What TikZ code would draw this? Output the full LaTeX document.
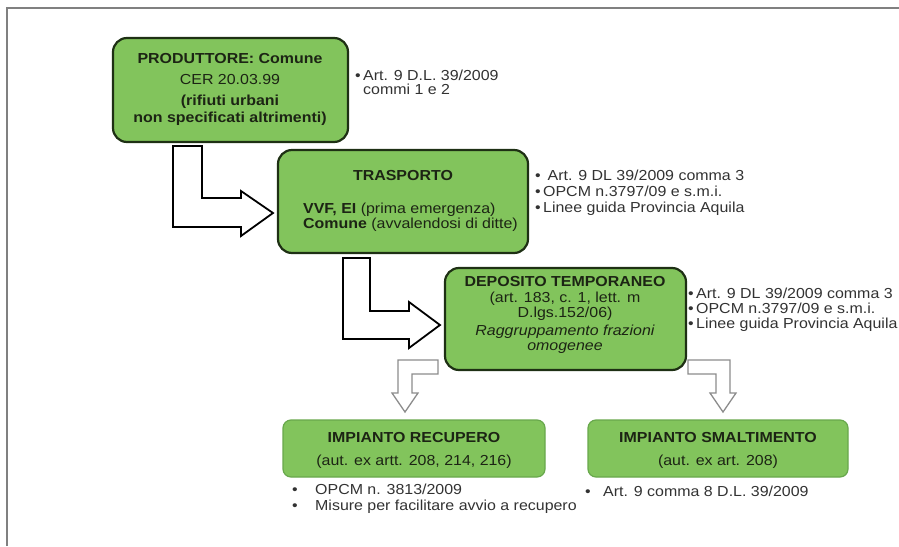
\documentclass[tikz,border=0pt]{standalone}
\usepackage{fontspec}
\setmainfont{Liberation Sans}[FakeStretch=1.1]
\definecolor{boxgreen}{RGB}{130,196,92}
\definecolor{boxedge}{RGB}{30,48,20}
\definecolor{lowedge}{RGB}{104,168,76}
\definecolor{textdark}{RGB}{28,36,20}
\definecolor{sidegray}{RGB}{50,50,50}
\definecolor{framegray}{RGB}{128,128,128}
\definecolor{arrgray}{RGB}{140,140,140}
\tikzset{
  bigbox/.style={draw=boxedge, line width=2.2pt, fill=boxgreen, rounded corners=14pt, inner sep=0pt},
  lowbox/.style={draw=lowedge, line width=1.2pt, fill=boxgreen, rounded corners=8pt, inner sep=0pt},
  txt/.style={font=\fontsize{14.5}{16}\selectfont, text=textdark, inner sep=0pt, anchor=base},
  side/.style={font=\fontsize{14.5}{16}\selectfont, text=sidegray, inner sep=0pt, anchor=base west},
  bigarrow/.style={draw=black, line width=1.8pt, fill=white, line join=miter},
  grayarrow/.style={draw=arrgray, line width=1.3pt, fill=white, line join=miter},
  framestyle/.style={draw=framegray, line width=2pt}
}
\begin{document}
\begin{tikzpicture}[x=1pt,y=-1pt]
\useasboundingbox (0,0) rectangle (899,546);
% frame
\draw[framestyle] (7,546) -- (7,8) -- (899,8);

% boxes
\node[bigbox, minimum width=235pt, minimum height=104pt] (b1) at (230.5,90) {};
\node[bigbox, minimum width=250pt, minimum height=103pt] (b2) at (403,201.5) {};
\node[bigbox, minimum width=241pt, minimum height=102pt] (b3) at (565.5,319) {};
\node[lowbox, minimum width=262pt, minimum height=57pt] (b4) at (414,448.5) {};
\node[lowbox, minimum width=260pt, minimum height=57pt] (b5) at (718,448.5) {};

% big bent arrows
\draw[bigarrow] (173,146) -- (202,146) -- (202,198) -- (241,198) -- (241,191) -- (273,213)
  -- (241,236) -- (241,227) -- (173,227) -- cycle;
\draw[bigarrow] (343,258) -- (370,258) -- (370,311) -- (409,311) -- (409,302) -- (440,325)
  -- (409,348) -- (409,339) -- (343,339) -- cycle;

% gray arrows
\draw[grayarrow] (438,360) -- (398,360) -- (398,393) -- (392,393) -- (405,412) -- (418,393)
  -- (412,393) -- (412,374) -- (438,374) -- cycle;
\draw[grayarrow] (688,360) -- (730,360) -- (730,393) -- (736,393) -- (723,412) -- (710,393)
  -- (716,393) -- (716,374) -- (688,374) -- cycle;

% box 1 text
\node[txt] (t1a) at (230,63) {\textbf{PRODUTTORE: Comune}};
\node[txt] (t1b) at (230,84) {CER 20.03.99};
\node[txt] (t1c) at (230,105) {\textbf{(rifiuti urbani}};
\node[txt] (t1d) at (230,122) {\textbf{non specificati altrimenti)}};

% box 2 text
\node[txt] (t2a) at (403,180) {\textbf{TRASPORTO}};
\node[txt, anchor=base west] (t2b) at (303,213) {\textbf{VVF, EI} (prima emergenza)};
\node[txt, anchor=base west] (t2c) at (303,228) {\textbf{Comune} (avvalendosi di ditte)};

% box 3 text
\node[txt] (t3a) at (565,286) {\textbf{DEPOSITO TEMPORANEO}};
\node[txt] (t3b) at (565,302) {(art. 183, c. 1, lett. m};
\node[txt] (t3c) at (565,317) {D.lgs.152/06)};
\node[txt] (t3d) at (565,335) {\itshape Raggruppamento frazioni};
\node[txt] (t3e) at (565,350) {\itshape omogenee};

% box 4, 5 text
\node[txt] (t4a) at (414,442) {\textbf{IMPIANTO RECUPERO}};
\node[txt] (t4b) at (414,465) {(aut. ex artt. 208, 214, 216)};
\node[txt] (t5a) at (718,442) {\textbf{IMPIANTO SMALTIMENTO}};
\node[txt] (t5b) at (718,465) {(aut. ex art. 208)};

% side texts box 1
\node[side] (s1a) at (355,80) {\textbullet\,Art. 9 D.L. 39/2009};
\node[side] (s1b) at (363,94) {commi 1 e 2};
% side texts box 2
\node[side] (s2a) at (535,180) {\textbullet\ \,Art. 9 DL 39/2009 comma 3};
\node[side] (s2b) at (535,196) {\textbullet\,OPCM n.3797/09 e s.m.i.};
\node[side] (s2c) at (535,212) {\textbullet\,Linee guida Provincia Aquila};
% side texts box 3
\node[side] (s3a) at (688,298) {\textbullet\,Art. 9 DL 39/2009 comma 3};
\node[side] (s3b) at (688,313) {\textbullet\,OPCM n.3797/09 e s.m.i.};
\node[side] (s3c) at (688,328) {\textbullet\,Linee guida Provincia Aquila};
% under box 4
\node[side] (u4a) at (292,494) {\textbullet};
\node[side] (u4b) at (315,494) {OPCM n. 3813/2009};
\node[side] (u4c) at (292,510) {\textbullet};
\node[side] (u4d) at (315,510) {Misure per facilitare avvio a recupero};
% under box 5
\node[side] (u5a) at (585,496) {\textbullet};
\node[side] (u5b) at (603,496) {Art. 9 comma 8 D.L. 39/2009};
\end{tikzpicture}
\end{document}
